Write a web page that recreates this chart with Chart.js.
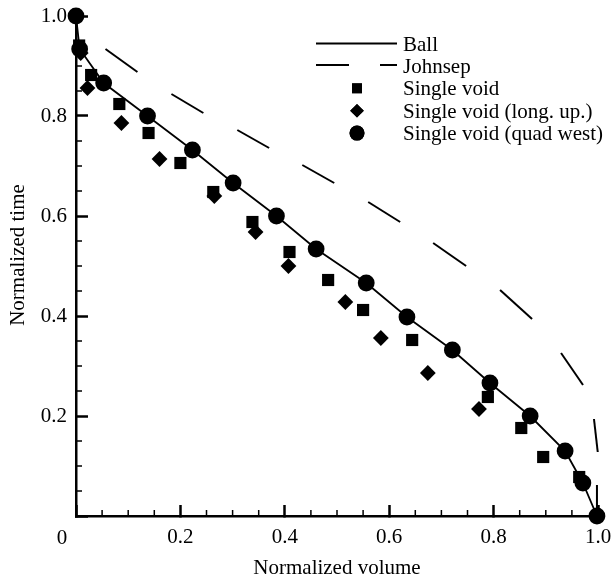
<!DOCTYPE html>
<html>
<head>
<meta charset="utf-8">
<script src="https://cdn.jsdelivr.net/npm/chart.js@4/dist/chart.umd.min.js"></script>
<style>
html,body{margin:0;padding:0;background:#fff;}
#wrap{width:611px;height:580px;}
</style>
</head>
<body>
<div id="wrap"><canvas id="c" width="611" height="580"></canvas></div>
<script>
// ---------- data ----------
const xTickValues = [0, 0.2, 0.4, 0.6, 0.8, 1.0];
const yTickValues = [0, 0.2, 0.4, 0.6, 0.8, 1.0];
const minorTickValues = [0.05,0.1,0.15,0.25,0.3,0.35,0.45,0.5,0.55,0.65,0.7,0.75,0.85,0.9,0.95];

const xTitle = "Normalized volume";
const yTitle = "Normalized time";
const originLabel = "0";

// Ball (solid line)
const ballV = [0.0, 0.007, 0.053, 0.137, 0.223, 0.301, 0.384, 0.460, 0.556, 0.634, 0.721, 0.793, 0.870, 0.937, 0.971, 0.998];
const ballT = [1.0, 0.934, 0.866, 0.800, 0.732, 0.666, 0.600, 0.534, 0.466, 0.398, 0.332, 0.266, 0.200, 0.130, 0.066, 0.0];

// Johnsep (dashed curve) – start/end of each visible dash
const johnsepV = [0.0565, 0.1177, 0.1828, 0.244, 0.309, 0.370, 0.4335, 0.4947, 0.5598, 0.621, 0.6842, 0.7474, 0.8124, 0.8737, 0.9292, 0.9713, 0.9923, 0.9995, 0.998, 0.998];
const johnsepT = [0.934, 0.888, 0.844, 0.806, 0.772, 0.736, 0.702, 0.666, 0.628, 0.588, 0.546, 0.500, 0.452, 0.394, 0.326, 0.262, 0.194, 0.128, 0.062, 0.0];

// Single void (squares)
const singleVoidV = [0.006, 0.029, 0.083, 0.139, 0.200, 0.263, 0.338, 0.409, 0.483, 0.550, 0.644, 0.789, 0.853, 0.895, 0.964];
const singleVoidT = [0.941, 0.882, 0.824, 0.766, 0.706, 0.648, 0.588, 0.528, 0.472, 0.412, 0.352, 0.238, 0.176, 0.118, 0.078];

// Single void (long. up.) (diamonds)
const longUpV = [0.009, 0.022, 0.087, 0.160, 0.265, 0.344, 0.407, 0.516, 0.584, 0.674, 0.772];
const longUpT = [0.926, 0.856, 0.786, 0.714, 0.640, 0.568, 0.500, 0.428, 0.356, 0.286, 0.214];

// Single void (quad west) (circles)
const quadWestV = [0.0, 0.007, 0.053, 0.137, 0.223, 0.301, 0.384, 0.460, 0.556, 0.634, 0.721, 0.793, 0.870, 0.937, 0.971, 0.998];
const quadWestT = [1.0, 0.934, 0.866, 0.800, 0.732, 0.666, 0.600, 0.534, 0.466, 0.398, 0.332, 0.266, 0.200, 0.130, 0.066, 0.0];

const seriesNames = ["Ball", "Johnsep", "Single void", "Single void (long. up.)", "Single void (quad west)"];

// ---------- helpers ----------
const pts = (xs, ys) => xs.map((x, i) => ({x: x, y: ys[i]}));
const FONT = "'Liberation Serif', 'Times New Roman', serif";
const INK = '#000';

const datasets = [
  { label: seriesNames[0], data: pts(ballV, ballT), showLine: true, borderColor: INK, borderWidth: 1.8,
    pointRadius: 0, pointHoverRadius: 0, tension: 0, order: 0, clip: false },
  { label: seriesNames[1], data: pts(johnsepV, johnsepT), showLine: true, borderColor: INK, borderWidth: 2,
    pointRadius: 0, pointHoverRadius: 0, tension: 0, order: 1, clip: false,
    segment: { borderColor: ctx => (ctx.p0DataIndex % 2 === 0 ? INK : 'rgba(0,0,0,0)') } },
  { label: seriesNames[2], data: pts(singleVoidV, singleVoidT), showLine: false, pointStyle: 'rect',
    pointRadius: 8.6, backgroundColor: INK, borderColor: INK, borderWidth: 0, order: 4, clip: false },
  { label: seriesNames[3], data: pts(longUpV, longUpT), showLine: false, pointStyle: 'rectRot',
    pointRadius: 7.9, backgroundColor: INK, borderColor: INK, borderWidth: 0, order: 3, clip: false },
  { label: seriesNames[4], data: pts(quadWestV, quadWestT), showLine: false, pointStyle: 'circle',
    pointRadius: 8.4, backgroundColor: INK, borderColor: INK, borderWidth: 0, order: 2, clip: false }
];

// minor ticks, origin label, y title, legend
const extras = {
  id: 'extras',
  afterDraw(chart) {
    const ctx = chart.ctx;
    const xs = chart.scales.x, ys = chart.scales.y;
    const x0 = xs.getPixelForValue(0), y0 = ys.getPixelForValue(0);
    ctx.save();
    // minor ticks (inward)
    ctx.strokeStyle = INK; ctx.lineWidth = 1.5;
    ctx.beginPath();
    minorTickValues.forEach(v => {
      const px = xs.getPixelForValue(v);
      ctx.moveTo(px, y0); ctx.lineTo(px, y0 - 6);
      const py = ys.getPixelForValue(v);
      ctx.moveTo(x0, py); ctx.lineTo(x0 + 6, py);
    });
    ctx.stroke();
    // origin label
    ctx.fillStyle = INK;
    ctx.font = "21px " + FONT;
    ctx.textAlign = 'center'; ctx.textBaseline = 'middle';
    ctx.fillText(originLabel, x0 - 14, 538);
    // y title
    ctx.save();
    ctx.translate(18, 255);
    ctx.rotate(-Math.PI / 2);
    ctx.textAlign = 'center'; ctx.textBaseline = 'middle';
    ctx.fillText(yTitle, 0, 0);
    ctx.restore();
    // legend
    const lx0 = 316, lx1 = 397, mx = 357, tx = 403, rowY0 = 43.5, rowH = 22.4;
    ctx.textAlign = 'left'; ctx.textBaseline = 'alphabetic';
    chart.data.datasets.forEach((ds, i) => {
      const y = rowY0 + i * rowH;
      ctx.fillStyle = INK; ctx.strokeStyle = INK;
      if (i === 0) {
        ctx.lineWidth = 2; ctx.beginPath(); ctx.moveTo(lx0, y); ctx.lineTo(lx1, y); ctx.stroke();
      } else if (i === 1) {
        ctx.lineWidth = 2; ctx.beginPath();
        ctx.moveTo(lx0, y - 1); ctx.lineTo(349, y - 1);
        ctx.moveTo(380, y - 1); ctx.lineTo(lx1, y - 1);
        ctx.stroke();
      } else {
        const r = i === 2 ? 7 : (i === 3 ? 6.8 : 7.5);
        Chart.helpers.drawPoint(ctx, { pointStyle: ds.pointStyle, radius: r, rotation: 0, borderWidth: 0 }, mx, y);
        ctx.fill();
      }
      ctx.fillStyle = INK;
      ctx.fillText(ds.label, tx, y + 7);
    });
    ctx.restore();
  }
};

new Chart(document.getElementById('c'), {
  type: 'scatter',
  data: { datasets },
  options: {
    responsive: false,
    animation: false,
    devicePixelRatio: 1,
    layout: { padding: { top: 16, right: 13, left: 0, bottom: 0 } },
    plugins: { legend: { display: false }, tooltip: { enabled: false } },
    scales: {
      x: {
        type: 'linear', position: 'bottom', min: 0, max: 1,
        afterBuildTicks: s => { s.ticks = xTickValues.map(v => ({ value: v })); },
        afterFit: s => { s.height = 64; s.paddingLeft = 0; s.paddingRight = 13; },
        grid: { drawOnChartArea: false, drawTicks: true, tickLength: -11, tickWidth: 2.5, tickColor: INK },
        border: { display: true, color: INK, width: 2.5 },
        ticks: { color: INK, font: { family: FONT, size: 21 }, padding: 20, maxRotation: 0,
                 callback: v => (v === 0 ? '' : Number(v).toFixed(1)) },
        title: { display: true, text: xTitle, color: INK, font: { family: FONT, size: 21 }, padding: { top: 0, bottom: -1 } }
      },
      y: {
        type: 'linear', position: 'left', min: 0, max: 1,
        afterBuildTicks: s => { s.ticks = yTickValues.map(v => ({ value: v })); },
        afterFit: s => { s.width = 76; s.paddingTop = 13; s.paddingBottom = 0; },
        grid: { drawOnChartArea: false, drawTicks: true, tickLength: -12, tickWidth: 2.5, tickColor: INK },
        border: { display: true, color: INK, width: 2.5 },
        ticks: { color: INK, font: { family: FONT, size: 21 }, padding: 21,
                 callback: v => (v === 0 ? '' : Number(v).toFixed(1)) },
        title: { display: false }
      }
    }
  },
  plugins: [extras]
});
</script>
</body>
</html>
